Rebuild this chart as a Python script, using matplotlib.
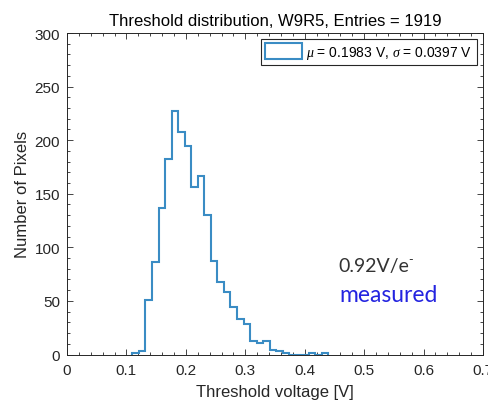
import numpy as np
import matplotlib
matplotlib.use("Agg")
import matplotlib.pyplot as plt
from matplotlib.ticker import MultipleLocator

# Data (bin width 0.011 V, first edge 0.110 V)
bin_width = 0.011
first_edge = 0.110
counts = [1, 3, 51, 86, 137, 182, 227, 208, 195, 156, 167, 130, 87, 68, 58,
          44, 33, 28, 13, 11, 13, 4, 3, 1, 0, 0, 0, 1, 0, 1]
edges = first_edge + bin_width * np.arange(len(counts) + 1)

title = "Threshold distribution, W9R5, Entries = 1919"
legend_label = r"$\mu$ = 0.1983 V, $\sigma$ = 0.0397 V"
xlabel = "Threshold voltage [V]"
ylabel = "Number of Pixels"
xticks = [0, 0.1, 0.2, 0.3, 0.4, 0.5, 0.6, 0.7]
yticks = [0, 50, 100, 150, 200, 250, 300]

plt.rcParams['font.family'] = ['Liberation Sans', 'DejaVu Sans']
plt.rcParams['mathtext.fontset'] = 'custom'
plt.rcParams['mathtext.it'] = 'Liberation Serif:italic'
plt.rcParams['mathtext.rm'] = 'Liberation Sans'

W, H = 488, 406
fig = plt.figure(figsize=(W / 100, H / 100), dpi=100)
ax = fig.add_axes([67 / W, 1 - 355.5 / H, (483 - 67) / W, (355.5 - 34) / H])

axcol = '#262626'
ax.hist(edges[:-1], bins=edges, weights=counts, histtype='step',
        color='#3a8cc4', linewidth=1.5, label=legend_label)

ax.set_xlim(0, 0.7)
ax.set_ylim(0, 300)
ax.set_xticks(xticks)
ax.set_xticklabels([f"{t:g}" for t in xticks])
ax.set_yticks(yticks)
ax.xaxis.set_minor_locator(MultipleLocator(0.02))
ax.yaxis.set_minor_locator(MultipleLocator(10))
ax.tick_params(which='both', direction='in', top=True, right=True,
               colors=axcol, labelsize=11, width=0.6)
ax.tick_params(which='major', length=4, pad=5)
ax.tick_params(axis='x', which='major', pad=6)
ax.tick_params(which='minor', length=2)
for s in ax.spines.values():
    s.set_color(axcol)
    s.set_linewidth(0.7)

ax.set_title(title, fontsize=12, color='black', pad=6)
ax.set_xlabel(xlabel, fontsize=12, color=axcol, labelpad=5)
ax.set_ylabel(ylabel, fontsize=12, color=axcol, labelpad=3)

leg = ax.legend(loc='upper right', fontsize=10, fancybox=False, framealpha=1,
                edgecolor='#262626', handlelength=2.7, handleheight=1.3,
                borderaxespad=0.45, borderpad=0.3, handletextpad=0.3)
leg.get_frame().set_linewidth(0.8)

fig.text(338 / W, 1 - 272 / H, "0.92V/e", fontsize=14, color='#333333',
         family=['Lato', 'DejaVu Sans'], ha='left', va='baseline')
fig.text(408 / W, 1 - 264 / H, "-", fontsize=9, color='#333333',
         family=['Lato', 'DejaVu Sans'], ha='left', va='baseline')
fig.text(339 / W, 1 - 302 / H, "measured", fontsize=16.5, color='#2424e0',
         family=['Lato', 'DejaVu Sans'], ha='left', va='baseline')

fig.savefig("out.png", dpi=100)
